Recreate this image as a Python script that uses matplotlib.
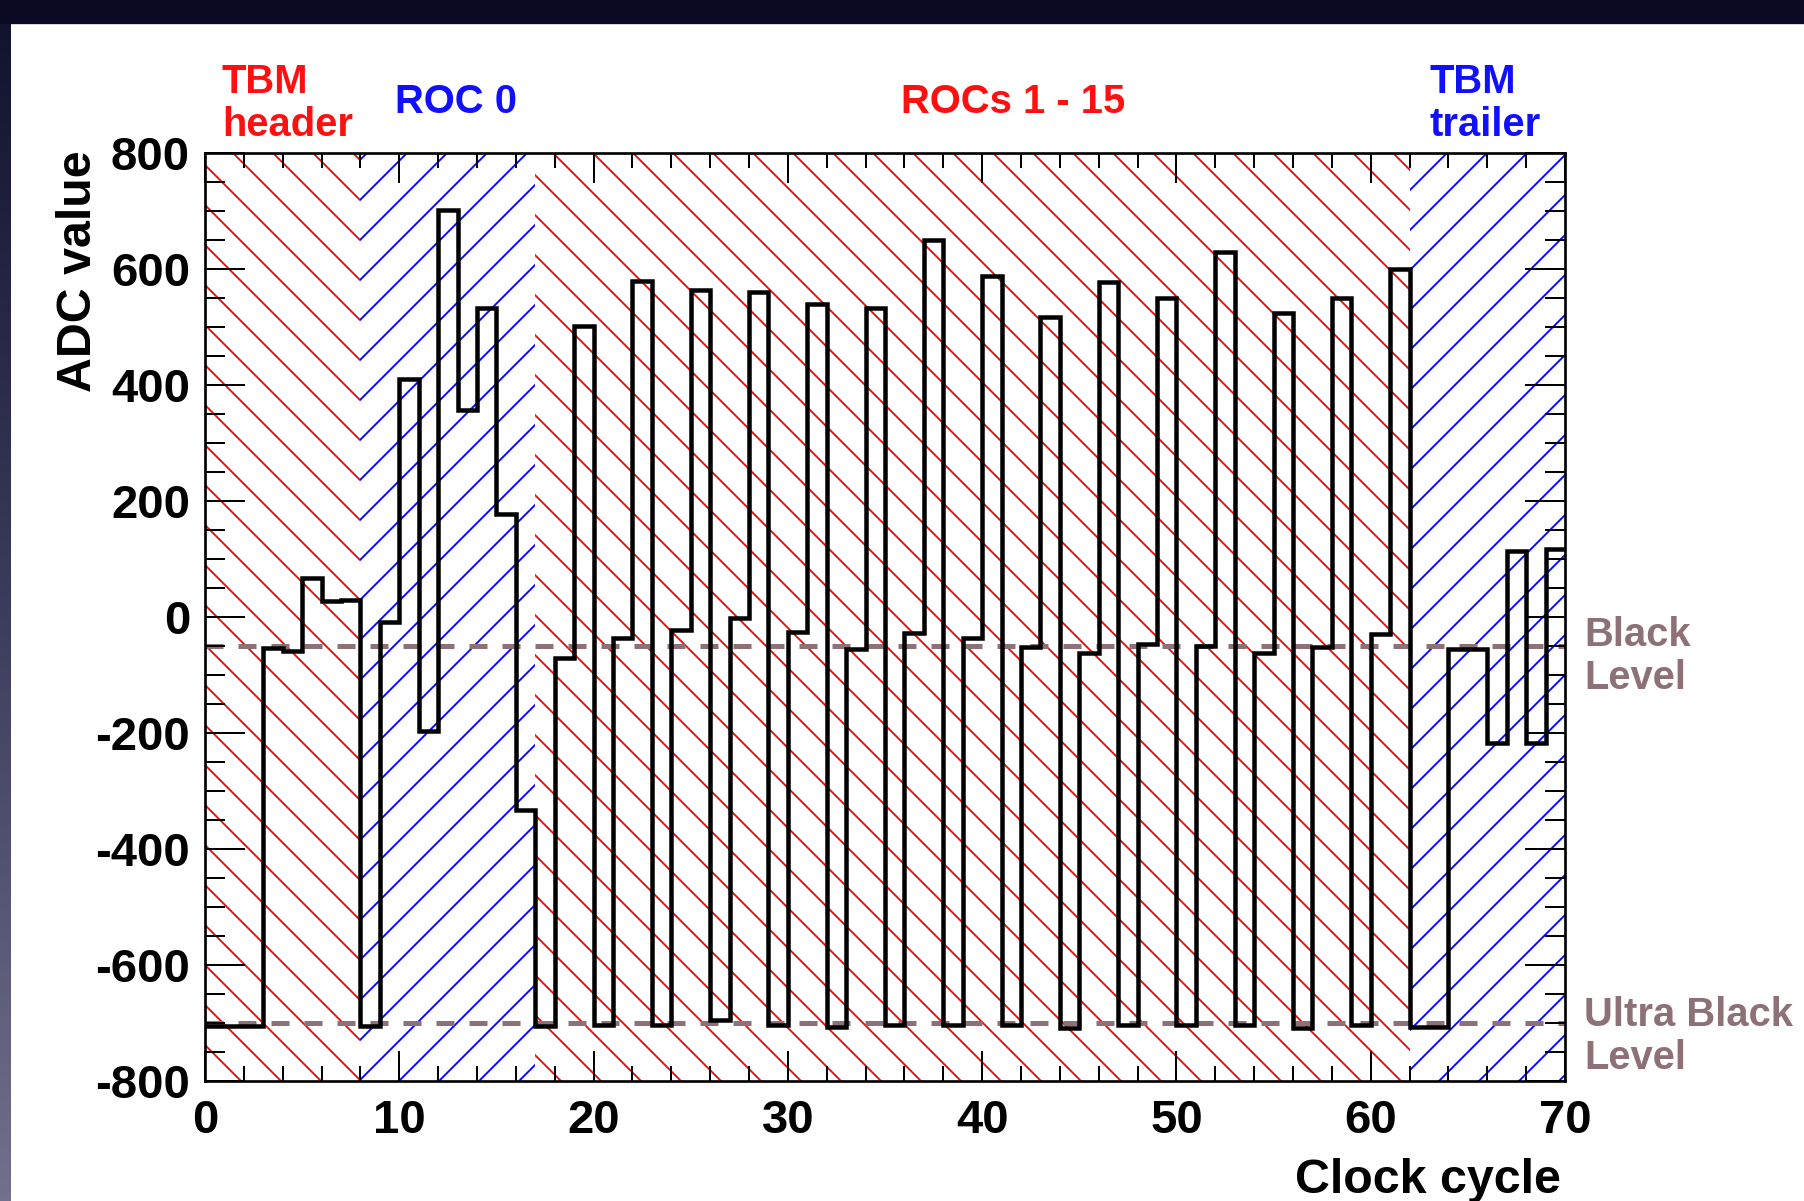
import numpy as np
import matplotlib.pyplot as plt
from matplotlib.colors import LinearSegmentedColormap
from matplotlib.patches import Rectangle
from matplotlib.ticker import MultipleLocator

# ADC value read in each clock cycle (one bin per cycle)
adc_values = [
    -705, -705, -705, -53, -58, 67, 27, 30, -705, -8,
    410, -197, 702, 357, 533, 177, -332, -705, -71, 501,
    -703, -36, 580, -703, -23, 563, -695, -2, 560, -703,
    -25, 540, -707, -56, 533, -703, -27, 650, -703, -36,
    588, -703, -52, 518, -708, -62, 577, -703, -46, 550,
    -703, -50, 630, -703, -62, 524, -708, -52, 550, -703,
    -30, 600, -707, -707, -55, -55, -217, 114, -217, 117,
]
clock_edges = np.arange(len(adc_values) + 1)

black_level = -50
ultra_black_level = -700

# readout segments: TBM header, ROC 0, ROCs 1-15, TBM trailer
segment_edges = [0, 8, 17, 62, 70]
segment_colors = ["red", "blue", "red", "blue"]
segment_hatches = ["\\\\", "//", "\\\\", "//"]

W, H, DPI = 1804, 1201, 240
LEVEL_COLOR = "#8e7077"

plt.rcParams.update({
    "font.family": ["Liberation Sans", "DejaVu Sans"],
    "font.weight": "bold",
    "hatch.linewidth": 0.55,
    "axes.unicode_minus": False,
})


def fx(px):
    return px / W


def fy(py):
    return 1 - py / H


fig = plt.figure(figsize=(W / DPI, H / DPI), dpi=DPI, facecolor="white")

# dark frame of the slide (top band + left strip)
fig.patches.append(Rectangle((0, fy(22)), 1, 22 / H, transform=fig.transFigure,
                             color="#0a0b22", zorder=0))
strip = fig.add_axes([0, 0, fx(11), fy(22)])
strip.imshow(np.linspace(0, 1, 256).reshape(-1, 1), aspect="auto",
             cmap=LinearSegmentedColormap.from_list(
                 "strip", ["#12132e", "#3c3c5c", "#72708c"]))
strip.set_axis_off()

ax = fig.add_axes([fx(205), fy(1081), 1360 / W, 928 / H])

for i, c in enumerate(segment_colors):
    ax.axvspan(segment_edges[i], segment_edges[i + 1], facecolor="none",
               edgecolor=c, hatch=segment_hatches[i], linewidth=0, zorder=0)

for lvl in (black_level, ultra_black_level):
    ax.axhline(lvl, color=LEVEL_COLOR, lw=1.5, dashes=(3.6, 3.0), zorder=1)

ax.stairs(adc_values, clock_edges, baseline=None, color="black", lw=1.35,
          zorder=3)

ax.set_xlim(0, 70)
ax.set_ylim(-800, 800)
ax.xaxis.set_major_locator(MultipleLocator(10))
ax.xaxis.set_minor_locator(MultipleLocator(2))
ax.yaxis.set_major_locator(MultipleLocator(200))
ax.yaxis.set_minor_locator(MultipleLocator(50))
ax.tick_params(which="both", direction="in", top=True, right=True,
               width=0.6, color="black")
ax.tick_params(axis="x", which="major", length=9, pad=5.4, labelsize=14.2)
ax.tick_params(axis="x", which="minor", length=4.5)
ax.tick_params(axis="y", which="major", length=12, pad=4.5, labelsize=14.2)
ax.tick_params(axis="y", which="minor", length=6)
for lab in ax.get_xticklabels() + ax.get_yticklabels():
    lab.set_fontweight("bold")
for sp in ax.spines.values():
    sp.set_linewidth(0.8)

# axis titles (ROOT style: at the far end of the axis)
fig.text(fx(101), fy(150), "ADC value", rotation=90, ha="right", va="top",
         fontsize=14.5, fontweight="bold")
fig.text(fx(1561), fy(1193), "Clock cycle", ha="right", va="baseline",
         fontsize=14.5, fontweight="bold")

# segment labels above the frame (baseline = last line)
txt = dict(fontsize=12, fontweight="bold", va="baseline", linespacing=1.16)
fig.text(fx(222), fy(136), "TBM\nheader", color="#ff1010", **txt)
fig.text(fx(395), fy(113), "ROC 0", color="#1010ff", **txt)
fig.text(fx(901), fy(113), "ROCs 1 - 15", color="#ff1010", **txt)
fig.text(fx(1430), fy(136), "TBM\ntrailer", color="#1010ff", **txt)

# level labels on the right
fig.text(fx(1584), fy(689), "Black\nLevel", color=LEVEL_COLOR, **txt)
fig.text(fx(1584), fy(1069), "Ultra Black\nLevel", color=LEVEL_COLOR, **txt)

fig.savefig("out.png", dpi=DPI, facecolor="white")
